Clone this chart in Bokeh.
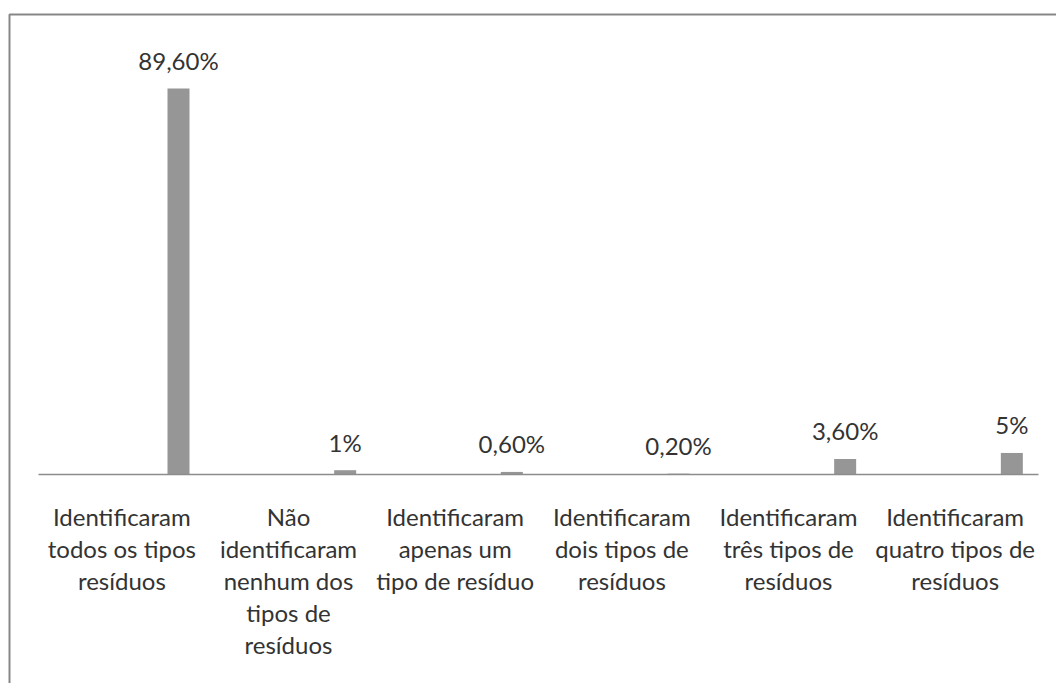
from bokeh.plotting import figure
from bokeh.models import ColumnDataSource, Range1d, BoxAnnotation
from bokeh.core.properties import value
from bokeh.embed import file_html
from bokeh.resources import INLINE

# Categories (line breaks as shown under the axis)
categories = [
    "Identificaram\ntodos os tipos\nresíduos",
    "Não\nidentificaram\nnenhum dos\ntipos de\nresíduos",
    "Identificaram\napenas um\ntipo de resíduo",
    "Identificaram\ndois tipos de\nresíduos",
    "Identificaram\ntrês tipos de\nresíduos",
    "Identificaram\nquatro tipos de\nresíduos",
]
percentages = [89.6, 1.0, 0.6, 0.2, 3.6, 5.0]
value_labels = ["89,60%", "1%", "0,60%", "0,20%", "3,60%", "5%"]

W, H = 1056, 683
FONT = "Lato"
FONT_SIZE = "24px"
TEXT_COLOR = "#333333"
BAR_COLOR = "#969696"
AXIS_COLOR = "#8c8c8c"
BORDER_COLOR = "#878787"

BAR_OFFSET = 0.84   # bar position inside each category slot
BAR_WIDTH = 0.132

p = figure(width=W, height=H, output_backend="svg", toolbar_location=None,
           x_axis_type=None, y_axis_type=None, min_border=0,
           x_range=Range1d(-0.228, 6.108), y_range=Range1d(-48.5, 110.0))
p.outline_line_color = None
p.grid.visible = False
p.background_fill_color = "white"
p.border_fill_color = "white"

n = len(categories)
idx = list(range(n))

bars = ColumnDataSource(dict(
    x=[i + BAR_OFFSET for i in idx],
    top=percentages,
    label=value_labels,
))
p.vbar(x="x", top="top", bottom=0, width=BAR_WIDTH, source=bars,
       fill_color=BAR_COLOR, line_color=None)

# category axis line
p.line(x=[0, n], y=[0, 0], line_color=AXIS_COLOR, line_width=1.5)

# value labels above the bars
p.text(x="x", y="top", text="label", source=bars,
       text_font=value(FONT), text_font_size=FONT_SIZE, text_color=TEXT_COLOR,
       text_align="center", text_baseline="alphabetic", y_offset=-28)

# category labels, one text glyph per line
lx, ly, lt, loff = [], [], [], []
for i, cat in enumerate(categories):
    for j, line in enumerate(cat.split("\n")):
        lx.append(i + 0.5)
        ly.append(0)
        lt.append(line)
        loff.append(42 + 32 * j)
cats = ColumnDataSource(dict(x=lx, y=ly, text=lt, yo=loff))
p.text(x="x", y="y", text="text", y_offset="yo", source=cats,
       text_font=value(FONT), text_font_size=FONT_SIZE, text_color=TEXT_COLOR,
       text_align="center", text_baseline="alphabetic")

# chart-area border
p.add_layout(BoxAnnotation(left=9, right=W + 50, top=14, bottom=H + 50,
                           left_units="canvas", right_units="canvas",
                           top_units="canvas", bottom_units="canvas",
                           fill_color=None, fill_alpha=0,
                           line_color=BORDER_COLOR, line_alpha=1.0,
                           line_width=2))

open("out.html", "w").write(file_html(p, INLINE))
